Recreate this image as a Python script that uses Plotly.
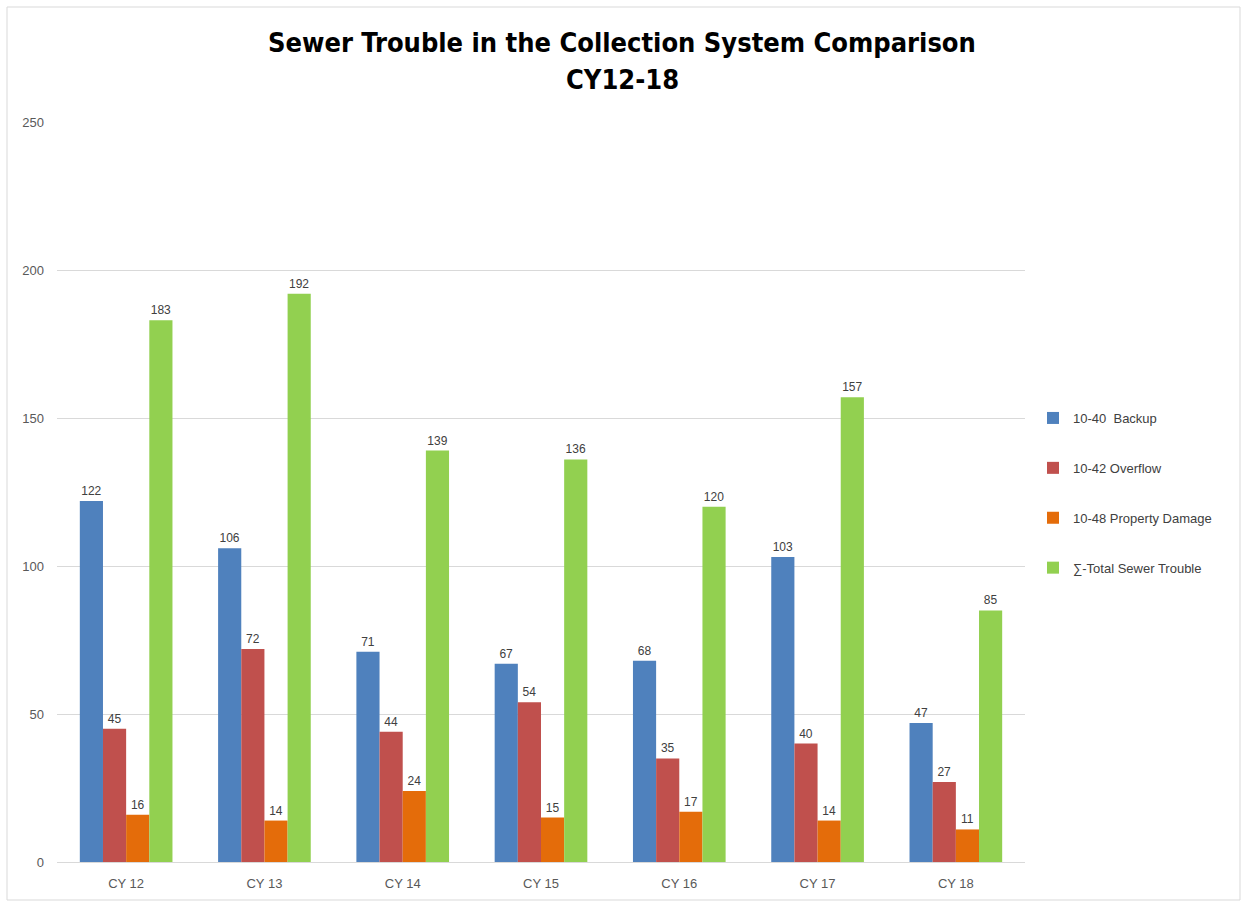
import plotly.graph_objects as go

years = ["CY 12", "CY 13", "CY 14", "CY 15", "CY 16", "CY 17", "CY 18"]
backup = [122, 106, 71, 67, 68, 103, 47]
overflow = [45, 72, 44, 54, 35, 40, 27]
property_damage = [16, 14, 24, 15, 17, 14, 11]
total_trouble = [183, 192, 139, 136, 120, 157, 85]

series_names = ["10-40  Backup", "10-42 Overflow", "10-48 Property Damage", "\u2211-Total Sewer Trouble"]
series_values = [backup, overflow, property_damage, total_trouble]
series_colors = ["#4F81BD", "#C0504D", "#E46C0A", "#92D050"]

title_lines = ["Sewer Trouble in the Collection System Comparison", "CY12-18"]

font_family = "Liberation Sans, Arial, sans-serif"
title_family = "DejaVu Sans Condensed, Liberation Sans Narrow, sans-serif"

fig = go.Figure()
for i, (name, vals, col) in enumerate(zip(series_names, series_values, series_colors)):
    fig.add_trace(go.Bar(
        x=years, y=vals, name=name, legendgroup=f"g{i}",
        marker=dict(color=col, line=dict(width=0)),
        text=vals, textposition="outside", cliponaxis=False,
        textfont=dict(size=12, color="#404040", family=font_family),
    ))

W, H = 1241, 905
ml, mr, mt, mb = 57, 216, 122, 43
pw, ph = W - ml - mr, H - mt - mb

def px(x):
    return (x - ml) / pw

def py(y):
    return (H - mb - y) / ph

fig.update_layout(
    width=W, height=H,
    margin=dict(l=ml, r=mr, t=mt, b=mb, autoexpand=False),
    paper_bgcolor="white", plot_bgcolor="white",
    barmode="group", bargap=0.33, bargroupgap=0,
    font=dict(family=font_family, color="#595959"),
    xaxis=dict(
        showgrid=False, showline=True, linecolor="#d9d9d9", linewidth=1,
        ticks="", tickfont=dict(size=13, color="#595959"), ticklabelstandoff=9,
    ),
    yaxis=dict(
        range=[0, 250], dtick=50, showgrid=True, gridcolor="#d9d9d9", gridwidth=1,
        zeroline=False, showline=False, ticks="",
        tickfont=dict(size=13, color="#595959"), ticklabelstandoff=12,
    ),
    legend=dict(
        x=px(1033), y=py(403), xanchor="left", yanchor="top",
        traceorder="grouped", tracegroupgap=30,
        font=dict(size=13, color="#404040", family=font_family),
        itemwidth=30, bgcolor="rgba(0,0,0,0)",
    ),
    showlegend=True,
)

# two-line chart title
for text, ypix in zip(title_lines, [42, 80]):
    fig.add_annotation(
        text=f"<b>{text}</b>", xref="paper", yref="paper",
        x=px(622), y=py(ypix), xanchor="center", yanchor="middle",
        showarrow=False,
        font=dict(size=27, color="#000000", family=title_family),
    )

# chart frame
fig.add_shape(type="rect", xref="paper", yref="paper",
              x0=px(7), x1=px(1240), y0=py(900), y1=py(7),
              line=dict(color="#d9d9d9", width=1), layer="below")

fig.write_html("out.html")
